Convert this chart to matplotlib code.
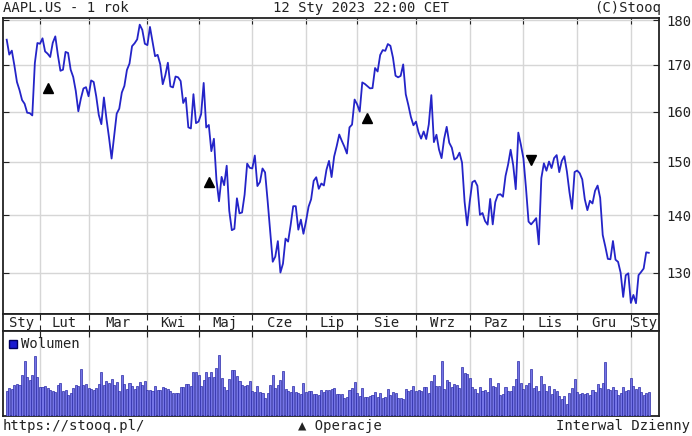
import matplotlib
matplotlib.use("Agg")
import matplotlib.pyplot as plt
from matplotlib.ticker import FixedLocator, NullLocator, NullFormatter

# AAPL.US daily closes, 12 Jan 2022 - 12 Jan 2023 (one list per month)
jan22 = [175.53, 172.19, 173.07, 169.80, 166.23, 164.51, 162.41, 161.62, 159.78, 159.69, 159.22, 170.33, 174.78]
feb22 = [174.61, 175.84, 172.90, 172.39, 171.66, 174.83, 176.28, 172.12, 168.64, 168.88, 172.79, 172.55, 168.88,
         167.30, 164.32, 160.07, 162.74, 164.85, 165.12]
mar22 = [163.20, 166.56, 166.23, 163.17, 159.30, 157.44, 162.95, 158.52, 154.73, 150.62, 155.09, 159.59, 160.62,
         163.98, 165.38, 168.82, 170.21, 174.07, 174.72, 175.60, 178.96, 177.77, 174.61]
apr22 = [174.31, 178.44, 175.06, 171.83, 172.14, 170.09, 165.75, 167.66, 170.40, 165.29, 165.07, 167.40, 167.23,
         166.42, 161.79, 162.88, 156.80, 156.57, 163.64, 157.65]
may22 = [157.96, 159.48, 166.02, 156.77, 157.28, 152.06, 154.51, 146.50, 142.56, 147.11, 145.54, 149.24, 140.82,
         137.35, 137.59, 143.11, 140.36, 140.52, 143.78, 149.64, 148.84]
jun22 = [148.71, 151.21, 145.38, 146.14, 148.71, 147.96, 142.64, 137.13, 131.88, 132.76, 135.43, 130.06, 131.56,
         135.87, 135.35, 138.27, 141.66, 141.66, 137.44, 139.23, 136.72]
jul22 = [138.93, 141.56, 142.92, 146.35, 147.04, 144.87, 145.86, 145.49, 148.47, 150.17, 147.07, 151.00, 153.04,
         155.35, 154.09, 152.95, 151.60, 156.79, 157.35, 162.51]
aug22 = [161.51, 160.01, 166.13, 165.81, 165.35, 164.87, 164.92, 169.24, 168.49, 172.10, 173.19, 173.03, 174.55,
         174.15, 171.52, 167.57, 167.23, 167.53, 170.03, 163.62, 161.38, 158.91, 157.22]
sep22 = [157.96, 155.81, 154.53, 155.96, 154.46, 157.37, 163.43, 153.84, 155.31, 152.37, 150.70, 154.48, 156.90,
         153.72, 152.74, 150.43, 150.77, 151.76, 149.84, 142.48, 138.20]
oct22 = [142.45, 146.10, 146.40, 145.43, 140.09, 140.42, 138.98, 138.34, 142.99, 138.38, 142.41, 143.75, 143.86,
         143.39, 147.27, 149.45, 152.34, 149.35, 144.80, 155.74, 153.34]
nov22 = [150.65, 145.03, 138.88, 138.38, 138.92, 139.50, 134.87, 146.87, 149.70, 148.28, 150.04, 148.79, 150.72,
         151.29, 148.01, 150.18, 151.07, 148.11, 144.22, 141.17, 148.03]
dec22 = [148.31, 147.81, 146.63, 142.91, 140.94, 142.65, 142.16, 144.49, 145.47, 143.21, 136.50, 134.51, 132.37,
         132.30, 135.45, 132.23, 131.86, 130.03, 126.04, 129.61, 129.93]
jan23 = [125.07, 126.36, 125.02, 129.62, 130.15, 130.73, 133.49, 133.41]

# volume, millions of shares
vjan22 = [74.8, 84.5, 80.4, 90.9, 94.8, 91.4, 122.8, 162.3, 115.8, 108.3, 121.9, 179.9, 115.5]
vfeb22 = [86.2, 84.9, 89.4, 82.5, 77.3, 74.8, 71.3, 90.9, 98.7, 75.6, 76.6, 61.2, 69.6, 82.8, 91.2, 90.0, 141.1,
          91.9, 95.1]
vmar22 = [83.5, 79.7, 76.7, 83.7, 96.4, 131.1, 91.5, 105.6, 96.9, 108.7, 92.9, 102.3, 75.6, 123.5, 95.8, 81.5,
          98.1, 90.1, 80.5, 90.4, 100.6, 92.6, 103.0]
vapr22 = [78.8, 76.5, 73.4, 89.1, 77.6, 76.6, 87.3, 84.0, 81.0, 75.3, 69.0, 67.7, 67.9, 87.2, 84.9, 96.0, 95.6,
          88.1, 130.2, 131.7]
vmay22 = [123.1, 88.9, 108.3, 130.5, 116.1, 131.6, 115.4, 142.7, 182.6, 113.8, 86.6, 78.3, 109.7, 136.1, 137.4,
          117.7, 104.1, 92.5, 90.6, 90.8, 103.7]
vjun22 = [74.3, 72.3, 88.5, 71.6, 67.8, 53.9, 69.5, 91.4, 122.2, 84.8, 91.5, 108.1, 134.5, 81.0, 73.4, 72.4, 89.1,
          70.2, 67.1, 66.2, 98.0]
vjul22 = [71.1, 73.4, 74.1, 66.3, 64.5, 63.1, 77.6, 71.2, 78.1, 76.3, 81.4, 82.0, 64.8, 65.1, 66.7, 53.6, 55.1,
          78.6, 82.0, 101.8]
vaug22 = [67.8, 59.9, 82.5, 55.5, 56.7, 60.4, 63.1, 70.2, 57.1, 68.0, 54.1, 56.4, 79.5, 62.3, 70.3, 69.0, 54.1,
          53.8, 51.2, 78.9, 73.3, 77.9, 87.9]
vsep22 = [74.2, 77.2, 73.7, 87.4, 84.9, 68.0, 104.9, 122.7, 87.9, 90.5, 162.3, 81.5, 107.7, 101.7, 86.7, 96.0,
          93.3, 84.4, 146.7, 128.1, 124.9]
voct22 = [114.3, 87.8, 79.5, 68.4, 85.9, 74.9, 77.0, 70.4, 113.2, 88.6, 85.3, 99.1, 61.8, 64.5, 86.5, 75.9, 74.7,
          88.2, 109.2, 164.8, 97.9]
vnov22 = [80.4, 93.6, 97.9, 140.8, 83.4, 89.9, 74.9, 118.9, 93.9, 73.4, 89.9, 64.2, 80.4, 74.8, 58.7, 51.8, 58.3,
          35.2, 69.2, 83.8, 111.4]
vdec22 = [71.3, 65.4, 68.8, 64.7, 69.7, 62.1, 76.1, 70.5, 93.9, 82.3, 98.9, 160.2, 79.6, 77.4, 85.9, 77.9, 63.8,
          69.0, 85.4, 75.7, 77.0]
vjan23 = [112.1, 89.1, 80.9, 87.8, 70.8, 63.9, 69.6, 71.4]

month_names = ["Sty", "Lut", "Mar", "Kwi", "Maj", "Cze", "Lip", "Sie", "Wrz", "Paz", "Lis", "Gru", "Sty"]

# events (dividends): ▲ below the price, ▼ above it
ev_up_idx = [16, 79, 141]
ev_up_lvl = [165.0, 146.1, 158.7]
ev_dn_idx = [205]
ev_dn_lvl = [150.3]

price_ticks = [130, 140, 150, 160, 170, 180]

months_close = [jan22, feb22, mar22, apr22, may22, jun22, jul22, aug22, sep22, oct22, nov22, dec22, jan23]
months_vol = [vjan22, vfeb22, vmar22, vapr22, vmay22, vjun22, vjul22, vaug22, vsep22, voct22, vnov22, vdec22, vjan23]

close = [c for m in months_close for c in m]
volume = [v for m in months_vol for v in m]
x = list(range(len(close)))

# index of first session of each month (Feb .. Jan)
month_starts = []
n = 0
for m in months_close[:-1]:
    n += len(m)
    month_starts.append(n)

plt.rcParams['font.family'] = ['DejaVu Sans Mono', 'DejaVu Sans']
plt.rcParams['font.size'] = 10

W, H = 692, 436
fig = plt.figure(figsize=(W / 100, H / 100), dpi=100)

def box(x0, y0, x1, y1):
    return [x0 / W, 1 - y1 / H, (x1 - x0) / W, (y1 - y0) / H]

xlim = (-1.45, 255.0)
line_col = '#2424c8'
grid_col = '#d6d6d6'
frame_col = '#222222'

# price panel
ax = fig.add_axes(box(3, 18, 659, 314))
ax.plot(x, close, color=line_col, lw=1.3, zorder=3)
ax.plot(ev_up_idx, ev_up_lvl, ls='none', marker='^', color='black', ms=7, zorder=4)
ax.plot(ev_dn_idx, ev_dn_lvl, ls='none', marker='v', color='black', ms=7, zorder=4)
ax.set_yscale('log')
ax.set_ylim(123.3, 180.5)
ax.set_xlim(*xlim)
ax.yaxis.set_major_locator(FixedLocator(price_ticks))
ax.yaxis.set_minor_locator(NullLocator())
ax.yaxis.set_minor_formatter(NullFormatter())
ax.set_yticklabels([str(t) for t in price_ticks])
ax.set_xticks(month_starts)
ax.set_xticklabels([])
ax.grid(True, color=grid_col, lw=1.0)
ax.tick_params(axis='y', direction='in', left=True, right=True, labelleft=False, labelright=True,
               length=4, pad=5, colors=frame_col, labelcolor='#222222')
ax.tick_params(axis='x', direction='in', top=True, bottom=False, length=4, colors=frame_col)
for s in ax.spines.values():
    s.set_color(frame_col)
    s.set_linewidth(1.3)

# month strip
axm = fig.add_axes(box(3, 314, 659, 331))
axm.set_xlim(*xlim)
axm.set_ylim(0, 1)
axm.set_yticks([])
axm.set_xticks(month_starts)
axm.set_xticklabels([])
axm.tick_params(axis='x', direction='in', top=True, bottom=True, length=4, colors=frame_col)
bounds = [xlim[0]] + month_starts + [xlim[1]]
for i, name in enumerate(month_names):
    axm.text((bounds[i] + bounds[i + 1]) / 2, 0.45, name, ha='center', va='center', color='#222222')
for s in axm.spines.values():
    s.set_color(frame_col)
    s.set_linewidth(1.3)

# volume panel
axv = fig.add_axes(box(3, 331, 659, 416))
axv.bar(x, volume, width=0.8, color='#7474e6', edgecolor='#2a2aa8', linewidth=0.5, zorder=3)
axv.set_xlim(*xlim)
axv.set_ylim(0, 253)
axv.set_yticks([])
axv.set_xticks(month_starts)
axv.set_xticklabels([])
axv.grid(True, axis='x', color=grid_col, lw=1.0)
axv.tick_params(axis='x', direction='in', top=True, bottom=False, length=4, colors=frame_col)
axv.plot([0.016], [0.85], transform=axv.transAxes, marker='s', ms=6, color='#1a1ad0',
         markeredgecolor='#000060', ls='none', zorder=5)
axv.text(0.028, 0.85, "Wolumen", transform=axv.transAxes, ha='left', va='center', color='#222222', zorder=5)
for s in axv.spines.values():
    s.set_color(frame_col)
    s.set_linewidth(1.3)

# header and footer
fig.text(3 / W, 1 - 8 / H, "AAPL.US - 1 rok", ha='left', va='center', color='#222222')
fig.text(361 / W, 1 - 8 / H, "12 Sty 2023 22:00 CET", ha='center', va='center', color='#222222')
fig.text(661 / W, 1 - 8 / H, "(C)Stooq", ha='right', va='center', color='#222222')
fig.text(3 / W, 1 - 426 / H, "https://stooq.pl/", ha='left', va='center', color='#222222')
fig.text(340 / W, 1 - 426 / H, "▲ Operacje", ha='center', va='center', color='#222222')
fig.text(690 / W, 1 - 426 / H, "Interwal Dzienny", ha='right', va='center', color='#222222')

fig.savefig("out.png", dpi=100, facecolor='white')
